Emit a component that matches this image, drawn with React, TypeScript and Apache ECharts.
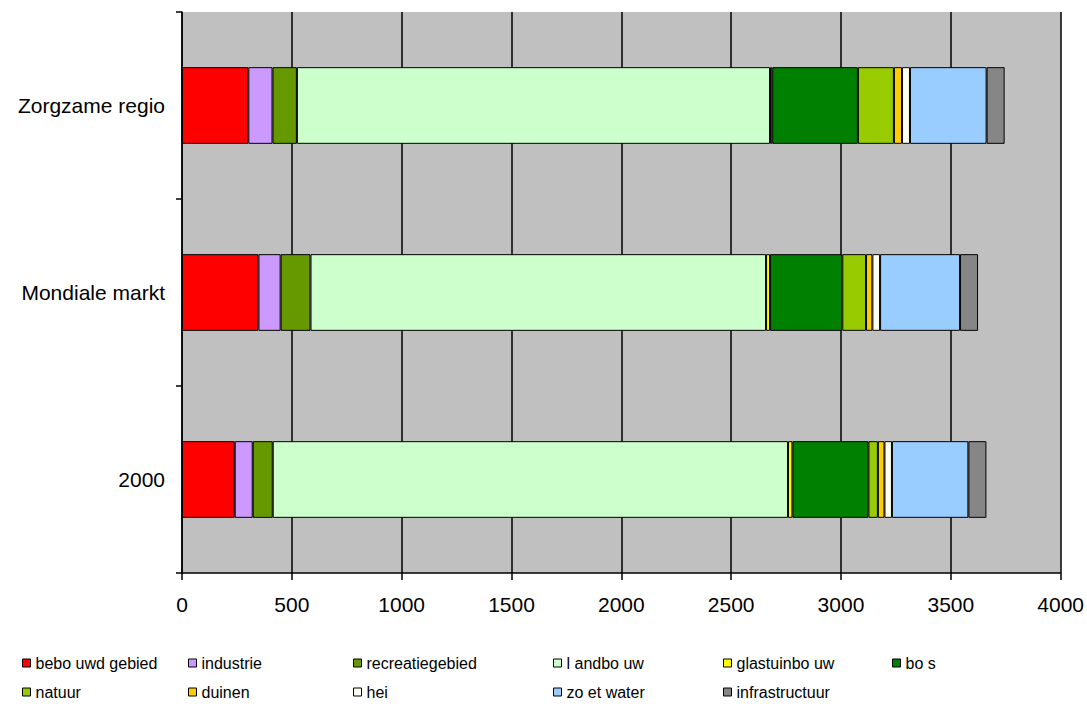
import React, { useEffect, useRef } from "react";
import * as echarts from "echarts";

const categories = ["2000", "Mondiale markt", "Zorgzame regio"];
const seriesNames = [
  "bebo uwd gebied",
  "industrie",
  "recreatiegebied",
  "l andbo uw",
  "glastuinbo uw",
  "bo s",
  "natuur",
  "duinen",
  "hei",
  "zo et water",
  "infrastructuur",
];
const colors = [
  "#FF0000",
  "#CC99FF",
  "#669900",
  "#CCFFCC",
  "#FFFF00",
  "#008000",
  "#99CC00",
  "#FFCC00",
  "#FFFFF2",
  "#99CCFF",
  "#868686",
];
// values per series: [2000, Mondiale markt, Zorgzame regio]
const bebouwd = [240, 348, 302];
const industrie = [82, 101, 110];
const recreatie = [91, 136, 111];
const landbouw = [2346, 2074, 2154];
const glastuinbouw = [20, 18, 10];
const bos = [346, 329, 390];
const natuur = [43, 108, 164];
const duinen = [30, 29, 37];
const hei = [34, 35, 36];
const water = [348, 364, 349];
const infra = [82, 82, 82];
const allValues = [bebouwd, industrie, recreatie, landbouw, glastuinbouw, bos, natuur, duinen, hei, water, infra];
const xTicks = { min: 0, max: 4000, interval: 500 };

export default function App() {
  const ref = useRef<HTMLDivElement>(null);
  useEffect(() => {
    const chart = echarts.init(ref.current!, undefined, { renderer: "svg" });
    const font = "Liberation Sans, Arial, sans-serif";
    const colX = [22, 188, 353, 553, 723, 892];
    const legends = colX.map((x, ci) => {
      const names = [seriesNames[ci], seriesNames[ci + 6]].filter((n) => n !== undefined);
      return {
        data: names,
        orient: "vertical",
        left: x,
        top: 655,
        padding: 0,
        itemGap: 13,
        itemWidth: 8,
        itemHeight: 8,
        icon: "rect",
        selectedMode: false,
        itemStyle: { borderColor: "#000", borderWidth: 1 },
        textStyle: { fontFamily: font, fontSize: 16, color: "#000", padding: [0, 0, 0, 0] },
      };
    });
    chart.setOption({
      animation: false,
      backgroundColor: "#fff",
      grid: {
        left: 182,
        right: 25,
        top: 12,
        bottom: 136,
        show: true,
        backgroundColor: "#C0C0C0",
        borderWidth: 0,
      },
      legend: legends,
      xAxis: {
        type: "value",
        min: xTicks.min,
        max: xTicks.max,
        interval: xTicks.interval,
        axisLine: { show: true, lineStyle: { color: "#000", width: 1.5 } },
        axisTick: { show: true, length: 7, lineStyle: { color: "#000", width: 1.5 } },
        axisLabel: {
          fontFamily: font,
          fontSize: 21,
          color: "#000",
          margin: 21,
          formatter: (v: number) => String(v),
        },
        splitLine: { show: true, lineStyle: { color: "#000", width: 1.5 } },
      },
      yAxis: {
        type: "category",
        data: categories,
        axisLine: { show: true, lineStyle: { color: "#000", width: 1.5 } },
        axisTick: { show: true, length: 6, lineStyle: { color: "#000", width: 1.5 } },
        axisLabel: { fontFamily: font, fontSize: 21, color: "#000", margin: 17 },
        splitLine: { show: false },
      },
      series: seriesNames.map((name, i) => ({
        name,
        type: "bar",
        stack: "total",
        data: allValues[i],
        barWidth: "41%",
        itemStyle: { color: colors[i], borderColor: "#000", borderWidth: 1 },
      })),
    });
    return () => chart.dispose();
  }, []);
  return (
    <div
      ref={ref}
      style={{ position: "fixed", left: 0, top: 0, width: 1087, height: 709 }}
    />
  );
}
